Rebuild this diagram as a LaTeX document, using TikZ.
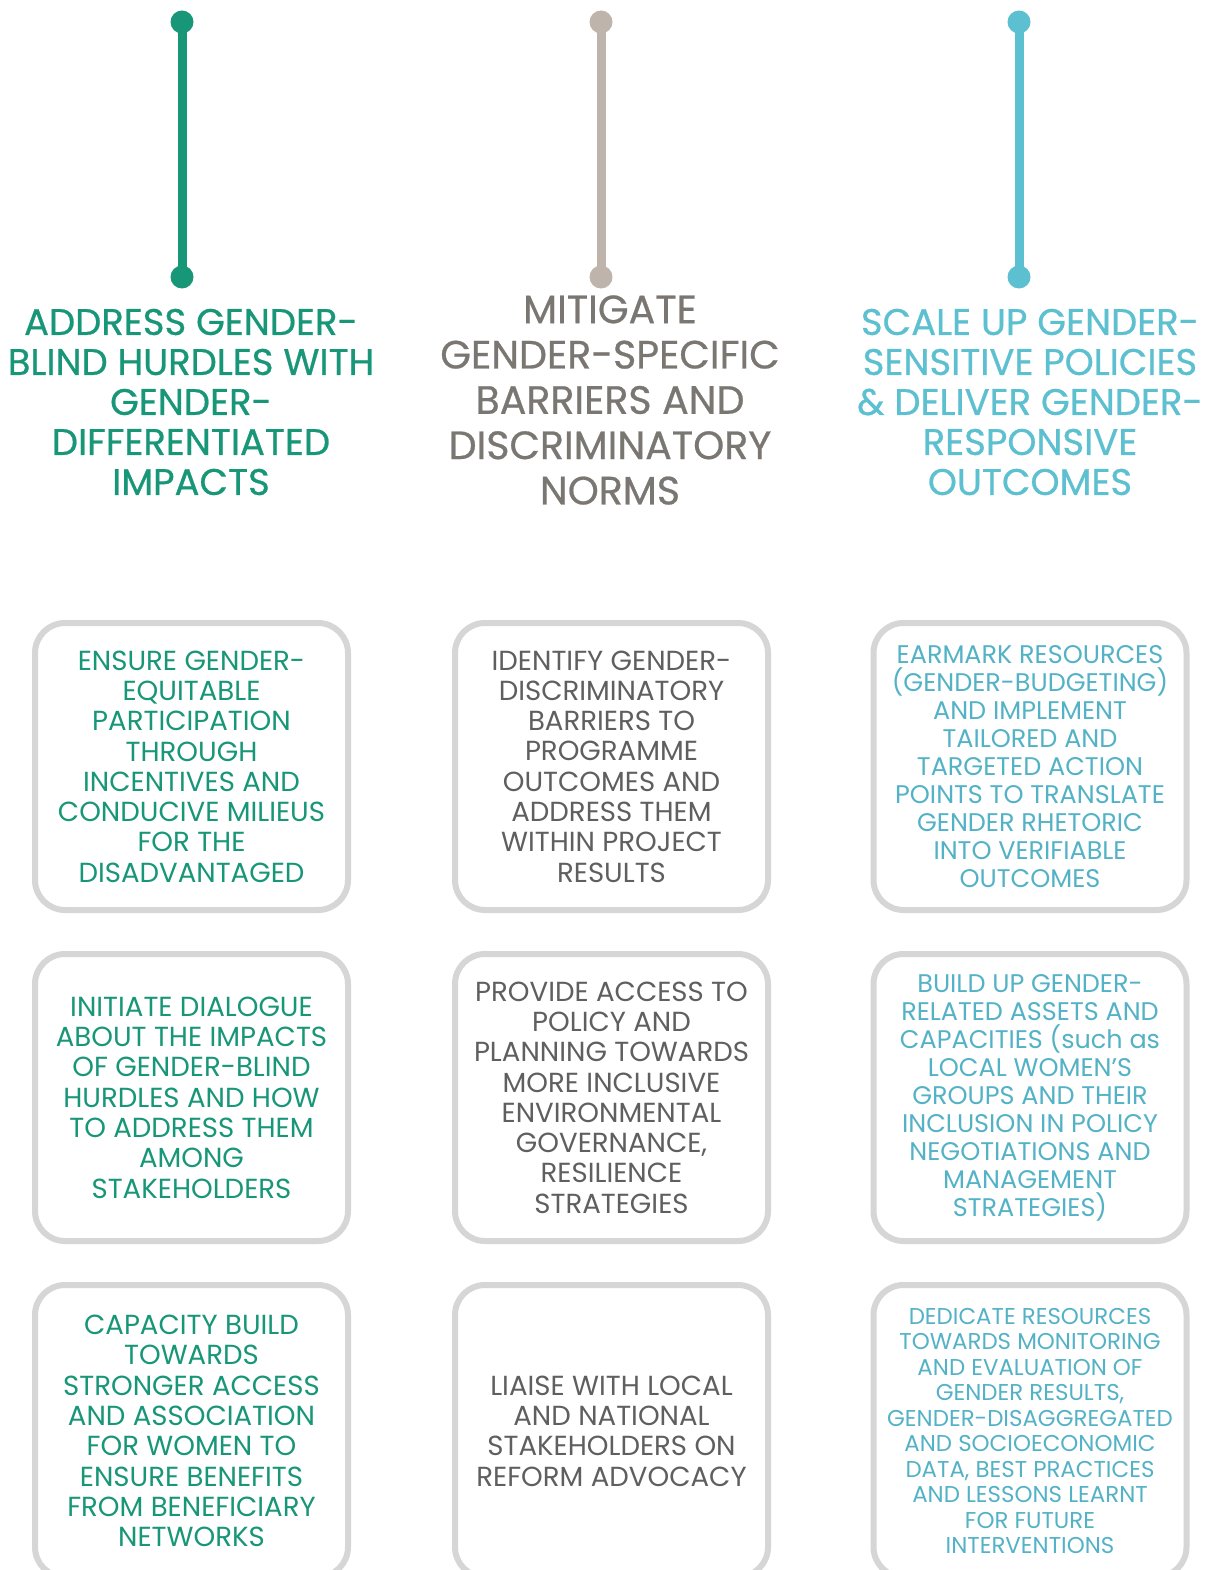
\documentclass[tikz,border=0pt]{standalone}
\usepackage{fontspec}
\setmainfont{Poppins}
\newfontfamily\headfont{Poppins}[FakeBold=0.6]
\usetikzlibrary{positioning}
\definecolor{teal1}{RGB}{24,150,120}
\definecolor{taupe1}{RGB}{190,180,172}
\definecolor{taupe2}{RGB}{122,118,114}
\definecolor{slate1}{RGB}{95,95,95}
\definecolor{aqua1}{RGB}{92,192,208}
\definecolor{aqua2}{RGB}{84,178,198}
\definecolor{frame1}{RGB}{214,214,214}

\begin{document}
\begin{tikzpicture}[x=1pt, y=-1pt,
  pillar/.style={line width=9pt},
  knob/.style={circle, inner sep=0pt, minimum size=23pt},
  heading/.style={align=center, font=\headfont\fontsize{37}{40}\selectfont},
  actionbox/.style={draw=frame1, line width=6pt, rounded corners=30pt,
    minimum width=313pt, minimum height=287pt, align=center, fill=white,
    font=\fontsize{27.6}{30.3}\selectfont}]
  \clip (0,0) rectangle (1207,1570);
  \fill[white] (0,0) rectangle (1207,1570);

  % pillars with knobs
  \foreach \name/\xpos/\col in {addr/182/teal1, miti/601/taupe1, scal/1019/aqua1} {
    \node[knob, fill=\col] (\name top) at (\xpos,22) {};
    \node[knob, fill=\col] (\name bot) at (\xpos,277) {};
    \draw[pillar, \col] (\name top.center) -- (\name bot.center);
  }

  % headings
  \node[heading, text=teal1] (addrhead) at (191,402)
    {ADDRESS GENDER-\\BLIND HURDLES WITH\\GENDER-\\DIFFERENTIATED\\IMPACTS};
  \node[heading, text=taupe2, font=\headfont\fontsize{39.5}{45.3}\selectfont] (mitihead) at (610,400)
    {MITIGATE\\GENDER-SPECIFIC\\BARRIERS AND\\DISCRIMINATORY\\NORMS};
  \node[heading, text=aqua1] (scalhead) at (1030,402)
    {SCALE UP GENDER-\\SENSITIVE POLICIES\\\& DELIVER GENDER-\\RESPONSIVE\\OUTCOMES};

  % first row
  \node[actionbox, text=teal1] (addr1) at (191.5,766.5)
    {ENSURE GENDER-\\EQUITABLE\\PARTICIPATION\\THROUGH\\INCENTIVES AND\\CONDUCIVE MILIEUS\\FOR THE\\DISADVANTAGED};
  \node[actionbox, text=slate1] (miti1) at (611.5,766.5)
    {IDENTIFY GENDER-\\DISCRIMINATORY\\BARRIERS TO\\PROGRAMME\\OUTCOMES AND\\ADDRESS THEM\\WITHIN PROJECT\\RESULTS};
  \node[actionbox, text=aqua2, font=\fontsize{25.5}{28}\selectfont] (scal1) at (1030,766.5)
    {EARMARK RESOURCES\\(GENDER-BUDGETING)\\AND IMPLEMENT\\TAILORED AND\\TARGETED ACTION\\POINTS TO TRANSLATE\\GENDER RHETORIC\\INTO VERIFIABLE\\OUTCOMES};

  % second row
  \node[actionbox, text=teal1] (addr2) at (191.5,1097.5)
    {INITIATE DIALOGUE\\ABOUT THE IMPACTS\\OF GENDER-BLIND\\HURDLES AND HOW\\TO ADDRESS THEM\\AMONG\\STAKEHOLDERS};
  \node[actionbox, text=slate1] (miti2) at (611.5,1097.5)
    {PROVIDE ACCESS TO\\POLICY AND\\PLANNING TOWARDS\\MORE INCLUSIVE\\ENVIRONMENTAL\\GOVERNANCE,\\RESILIENCE\\STRATEGIES};
  \node[actionbox, text=aqua2, font=\fontsize{25.5}{28}\selectfont] (scal2) at (1030,1097.5)
    {BUILD UP GENDER-\\RELATED ASSETS AND\\CAPACITIES (such as\\LOCAL WOMEN'S\\GROUPS AND THEIR\\INCLUSION IN POLICY\\NEGOTIATIONS AND\\MANAGEMENT\\STRATEGIES)};

  % third row
  \node[actionbox, text=teal1, minimum height=292pt] (addr3) at (191.5,1431)
    {CAPACITY BUILD\\TOWARDS\\STRONGER ACCESS\\AND ASSOCIATION\\FOR WOMEN TO\\ENSURE BENEFITS\\FROM BENEFICIARY\\NETWORKS};
  \node[actionbox, text=slate1, minimum height=292pt] (miti3) at (611.5,1431)
    {LIAISE WITH LOCAL\\AND NATIONAL\\STAKEHOLDERS ON\\REFORM ADVOCACY};
  \node[actionbox, text=aqua2, minimum height=292pt, font=\fontsize{22.9}{25.5}\selectfont] (scal3) at (1030,1431)
    {DEDICATE RESOURCES\\TOWARDS MONITORING\\AND EVALUATION OF\\GENDER RESULTS,\\GENDER-DISAGGREGATED\\AND SOCIOECONOMIC\\DATA, BEST PRACTICES\\AND LESSONS LEARNT\\FOR FUTURE\\INTERVENTIONS};
\end{tikzpicture}
\end{document}
